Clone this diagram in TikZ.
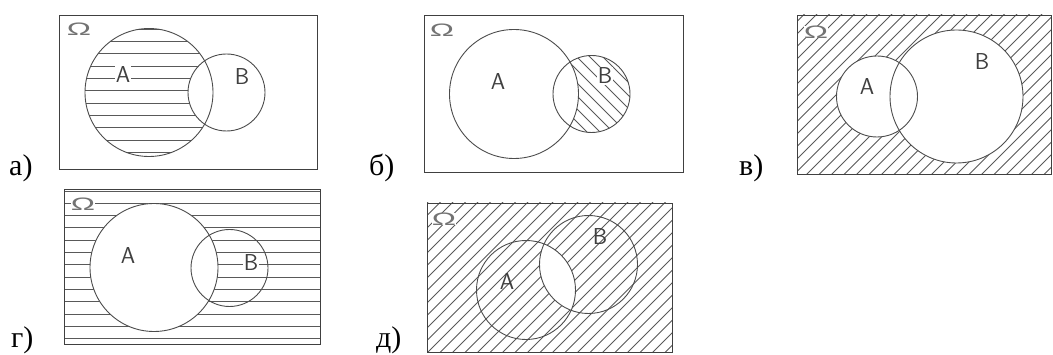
\documentclass[tikz,border=0pt]{standalone}
\usepackage{fontspec}
\setmainfont{Liberation Serif}
\newfontfamily\omegafont{Liberation Sans}
\tikzset{
  frame/.style={draw=black!75,line width=0.9pt},
  setc/.style={draw=black!70,line width=0.9pt},
  hatch/.style={draw=black!65,line width=0.8pt},
  setlbl/.style={font=\sffamily\fontsize{23}{23}\selectfont,text=black!75,inner sep=1pt},
  panel/.style={font=\fontsize{30}{32}\selectfont,anchor=base west,inner sep=0pt},
  omega/.style={font=\omegafont\fontsize{18}{18}\selectfont,text=black!55,xscale=1.8,inner sep=0pt}
}

\begin{document}
\begin{tikzpicture}[x=1pt,y=-1pt]
\useasboundingbox (0,0) rectangle (1053,355);

% a) A without B
\begin{scope}
\clip (149,92.5) circle (64);
\foreach \k in {0,...,10}
  \draw[hatch] (80,29+12.35*\k) -- (220,29+12.35*\k);
\fill[white] (226.5,92.5) circle (38.5);
\end{scope}
\draw[frame] (59,15) rectangle (317,169);
\draw[setc] (149,92.5) circle (64);
\draw[setc] (226.5,92.5) circle (38.5);
\node[setlbl,fill=white] (aA) at (123,75) {A};
\node[setlbl] (aB) at (242,77) {B};
\node[omega] (oa) at (79,29) {Ω};
\node[panel] (pa) at (9,176) {а)};

% b) B without A
\begin{scope}
\clip (591.5,94) circle (38.5);
\foreach \c in {390,403,...,650}
  \draw[hatch] (\c,0) -- (\c+200,200);
\fill[white] (514,94) circle (64.5);
\end{scope}
\draw[frame] (424,15) rectangle (683,172);
\draw[setc] (514,94) circle (64.5);
\draw[setc] (591.5,94) circle (38.5);
\node[setlbl] (bA) at (498,82) {A};
\node[setlbl,fill=white] (bB) at (605,76) {B};
\node[omega] (ob) at (442,30) {Ω};
\node[panel] (pb) at (369,176) {б)};

% v) complement of A or B
\begin{scope}
\clip (797,15) rectangle (1051,174);
\foreach \c in {806,818.5,...,1235}
  \draw[hatch] (\c,0) -- (\c-200,200);
\end{scope}
\fill[white] (877,96.5) circle (40.5);
\fill[white] (956.5,96.5) circle (66.5);
\draw[frame] (797,15) rectangle (1051,174);
\draw[setc] (877,96.5) circle (40.5);
\draw[setc] (956.5,96.5) circle (66.5);
\node[setlbl] (vA) at (867,87) {A};
\node[setlbl] (vB) at (982,62) {B};
\node[omega,fill=white] (ov) at (816,32) {Ω};
\node[panel] (pv) at (739,176) {в)};

% g) complement of A
\foreach \k in {0,...,12}
  \draw[hatch] (64,191+12.3*\k) -- (320,191+12.3*\k);
\fill[white] (154,267.5) circle (64);
\draw[frame] (64,189) rectangle (320,344);
\draw[setc] (154,267.5) circle (64);
\draw[setc] (229.5,268) circle (38.5);
\node[setlbl] (gA) at (128,256) {A};
\node[setlbl,fill=white] (gB) at (251,263) {B};
\node[omega,fill=white] (og) at (83,204) {Ω};
\node[panel] (pg) at (11,348) {г)};

% d) complement of A and B
\begin{scope}
\clip (427,203) rectangle (672,352);
\foreach \c in {630,642.5,...,1030}
  \draw[hatch] (\c,0) -- (\c-400,400);
\end{scope}
\begin{scope}
\clip (526,290) circle (49.5);
\fill[white] (588.5,264.5) circle (49);
\end{scope}
\draw[frame] (427,203) rectangle (672,352);
\draw[setc] (526,290) circle (49.5);
\draw[setc] (588.5,264.5) circle (49);
\node[setlbl] (dA) at (507,282) {A};
\node[setlbl] (dB) at (600,237) {B};
\node[omega,fill=white] (od) at (444,219) {Ω};
\node[panel] (pd) at (376,348) {д)};
\end{tikzpicture}
\end{document}
